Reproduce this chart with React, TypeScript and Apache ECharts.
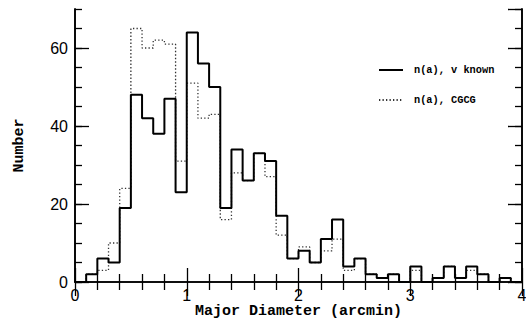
import React, { useEffect, useRef } from "react";
import * as echarts from "echarts";

// Histogram bins: 0.1 arcmin wide, starting at 0
const BIN_WIDTH = 0.1;
// n(a), v known (solid)
const V_KNOWN = [
  0, 2, 6, 5, 19, 48, 42, 38, 47, 23,
  64, 56, 50, 19, 34, 26, 33, 31, 17, 6,
  8, 5, 11, 16, 4, 6, 2, 1, 2, 0,
  4, 0, 1, 4, 1, 4, 2, 0, 1, 0,
];
// n(a), CGCG (dotted)
const CGCG = [
  0, 2, 3, 10, 24, 65, 60, 62, 61, 31,
  51, 42, 43, 16, 28, 26, 33, 27, 12, 6,
  9, 5, 8, 11, 3, 6, 2, 1, 2, 0,
  3, 0, 1, 4, 1, 3, 2, 0, 1, 0,
];
const SERIES_NAMES = ["n(a), v known", "n(a), CGCG"];
const X_RANGE = [0, 4];
const Y_RANGE = [0, 70];

function toSteps(vals: number[]) {
  const pts: [number, number][] = vals.map((v, i) => [+(i * BIN_WIDTH).toFixed(2), v]);
  pts.push([+(vals.length * BIN_WIDTH).toFixed(2), 0]);
  return pts;
}

const tickLabelFont = {
  fontFamily: "Liberation Sans",
  fontSize: 16,
  color: "#000",
};
const titleFont = {
  fontFamily: "Liberation Mono",
  fontSize: 15,
  fontWeight: "bold" as const,
  color: "#000",
};

export default function App() {
  const ref = useRef<HTMLDivElement>(null);
  useEffect(() => {
    if (!ref.current) return;
    const chart = echarts.init(ref.current, undefined, { renderer: "svg" });
    const axisLine = { show: true, lineStyle: { color: "#000", width: 1.6 } };
    const tickStyle = { color: "#000", width: 1.3 };
    const xBase = {
      type: "value" as const,
      min: X_RANGE[0],
      max: X_RANGE[1],
      interval: 1,
      axisLine,
      axisTick: { show: true, inside: true, length: 14, lineStyle: tickStyle },
      minorTick: { show: true, splitNumber: 5, length: 8, lineStyle: tickStyle },
      splitLine: { show: false },
      minorSplitLine: { show: false },
    };
    const yMajor = {
      type: "value" as const,
      min: Y_RANGE[0],
      max: Y_RANGE[1],
      interval: 20,
      axisLine,
      axisTick: { show: true, inside: true, length: 14, lineStyle: tickStyle },
      splitLine: { show: false },
    };
    const yMinor = {
      type: "value" as const,
      min: Y_RANGE[0],
      max: Y_RANGE[1],
      interval: 5,
      axisLine,
      axisTick: { show: true, inside: true, length: 7, lineStyle: tickStyle },
      axisLabel: { show: false },
      splitLine: { show: false },
    };
    chart.setOption({
      animation: false,
      backgroundColor: "#fff",
      grid: {
        left: 75,
        right: 4,
        top: 9,
        bottom: 40,
        containLabel: false,
        outerBoundsMode: "none",
      },
      legend: {
        data: SERIES_NAMES,
        orient: "vertical",
        left: 378,
        top: 65,
        padding: 0,
        itemWidth: 24,
        itemHeight: 12,
        itemGap: 20,
        itemStyle: { opacity: 0 },
        textStyle: {
          fontFamily: "Liberation Mono",
          fontSize: 10.3,
          fontWeight: "bold",
          color: "#000",
          padding: [0, 0, 0, 6],
        },
      },
      xAxis: [
        {
          ...xBase,
          position: "bottom",
          axisLabel: { ...tickLabelFont, margin: 5 },
          name: "Major Diameter (arcmin)",
          nameLocation: "middle",
          nameGap: 22,
          nameMoveOverlap: false,
          nameTextStyle: titleFont,
        },
        { ...xBase, position: "top", axisLabel: { show: false } },
      ],
      yAxis: [
        {
          ...yMajor,
          position: "left",
          axisLabel: { ...tickLabelFont, margin: 7, showMaxLabel: false },
          name: "Number",
          nameLocation: "middle",
          nameGap: 48,
          nameMoveOverlap: false,
          nameTextStyle: titleFont,
        },
        { ...yMinor, position: "left" },
        { ...yMajor, position: "right", axisLabel: { show: false } },
        { ...yMinor, position: "right" },
      ],
      series: [
        {
          name: SERIES_NAMES[1],
          type: "line",
          step: "end",
          data: toSteps(CGCG),
          symbol: "none",
          showSymbol: false,
          itemStyle: { color: "#333" },
          lineStyle: { color: "#333", width: 1.3, type: [1.3, 2.2] },
          xAxisIndex: 0,
          yAxisIndex: 0,
          z: 2,
        },
        {
          name: SERIES_NAMES[0],
          type: "line",
          step: "end",
          data: toSteps(V_KNOWN),
          symbol: "none",
          showSymbol: false,
          itemStyle: { color: "#000" },
          lineStyle: { color: "#000", width: 2 },
          xAxisIndex: 0,
          yAxisIndex: 0,
          z: 3,
        },
      ],
    });
    return () => chart.dispose();
  }, []);
  return (
    <div
      ref={ref}
      style={{ position: "fixed", left: 0, top: 0, width: 526, height: 322, background: "#fff" }}
    />
  );
}
